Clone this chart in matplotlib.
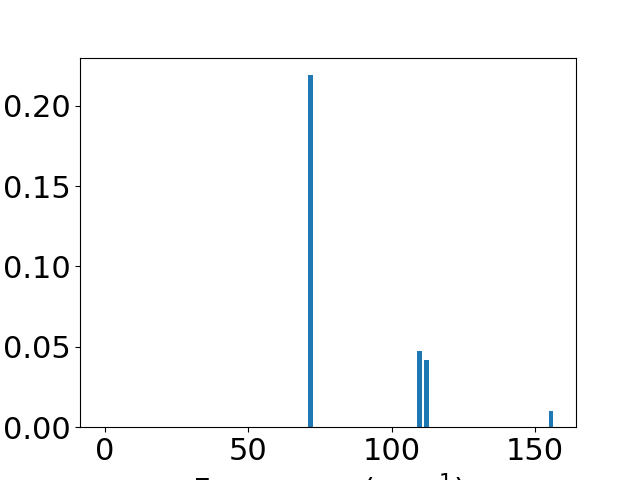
import matplotlib
matplotlib.use("Agg")
import matplotlib.pyplot as plt

plt.rcParams["font.size"] = 22

# frequencies (cm^-1) and relative intensities
freqs = [0, 71.6, 109.8, 112.1, 155.6]
intensity = [0.0, 0.219, 0.0474, 0.0418, 0.0100]

fig, ax = plt.subplots(figsize=(6.4, 4.8), dpi=100)
ax.bar(freqs, intensity, width=1.7, color="#1f77b4")
ax.set_xlabel("Frequency (cm$^{-1}$)")
ax.set_yticks([0.0, 0.05, 0.10, 0.15, 0.20])

fig.savefig("out.png")
